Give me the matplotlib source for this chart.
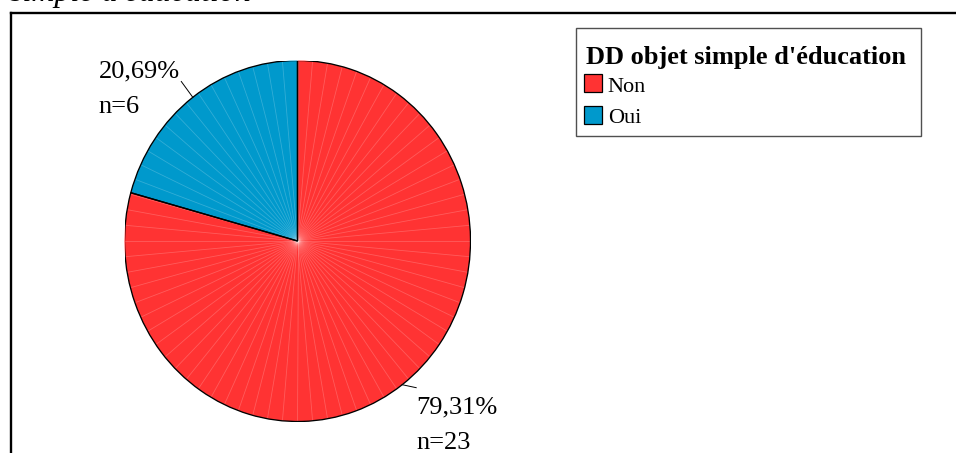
import numpy as np
import matplotlib
matplotlib.use("Agg")
import matplotlib.pyplot as plt
from matplotlib.lines import Line2D
from matplotlib.patches import Wedge, Rectangle

# ---- data ----
categories = ["Non", "Oui"]
counts = [23, 6]
percents = ["79,31%", "20,69%"]
colors = ["#FF3333", "#0099CC"]
legend_title = "DD objet simple d'éducation"
chart_title = "simple d'éducation"

W, H = 956, 453
fig = plt.figure(figsize=(W / 100, H / 100), dpi=100)
fig.patch.set_facecolor("white")
SERIF = ["Liberation Serif", "DejaVu Serif"]


def fx(px):
    return px / W


def fy(py):
    return 1 - py / H


# chart border (top & left visible, rest cropped)
lw_b = 1.7
fig.add_artist(Line2D([fx(10.5), fx(10.5)], [fy(12.5), fy(H + 5)], color="black", lw=lw_b,
                      solid_capstyle="projecting"))
fig.add_artist(Line2D([fx(10.5), fx(W + 5)], [fy(12.5), fy(12.5)], color="black", lw=lw_b,
                      solid_capstyle="projecting"))

# cropped title
fig.text(fx(9.5), fy(1.5), chart_title, family=SERIF, style="italic", fontsize=23,
         ha="left", va="baseline")

# pie axes (slightly elliptical as in reference)
cx, cy, rx, ry = 297.5, 241.0, 173.0, 180.5
ax = fig.add_axes([fx(cx - rx), fy(cy + ry), 2 * rx / W, 2 * ry / H])
wedges, _ = ax.pie(counts, colors=colors, startangle=90, counterclock=False,
                   wedgeprops=dict(edgecolor="none", linewidth=0))
ax.set_aspect("auto")
ax.set_xlim(-1, 1)
ax.set_ylim(-1, 1)
ax.axis("off")
for w in wedges:
    w.set_zorder(2)

# faint rendering texture (radial lines)
for a in np.arange(0, 360, 5.0):
    r = np.deg2rad(a)
    ax.plot([0, np.cos(r)], [0, np.sin(r)], color="white", alpha=0.2,
            lw=0.6, zorder=3)

# wedge outlines on top
for w in wedges:
    ax.add_patch(Wedge(w.center, w.r, w.theta1, w.theta2, fill=False,
                       edgecolor="black", lw=0.95, zorder=4))

# labels with leader lines (offsets in pixels)
label_cfg = {
    "Non": dict(lead=(14, 3), txt=(0, 61.5), ha="left"),
    "Oui": dict(lead=None, txt=(-1.5, 31.7), ha="right"),
}
for w, cat, n, p in zip(wedges, categories, counts, percents):
    mid = np.deg2rad((w.theta1 + w.theta2) / 2)
    ex, ey = np.cos(mid), np.sin(mid)
    cfg = label_cfg[cat]
    if cfg["lead"] is None:
        lx, ly = 1.11 * ex, 1.11 * ey
    else:
        lx = ex + cfg["lead"][0] / rx
        ly = ey - cfg["lead"][1] / ry
    ax.plot([ex, lx], [ey, ly], color="black", lw=0.7, zorder=5, clip_on=False)
    tx = lx + cfg["txt"][0] / rx
    ty = ly - cfg["txt"][1] / ry
    ax.text(tx, ty, f"{p}\nn={n}", family=SERIF, fontsize=19, ha=cfg["ha"],
            va="baseline", linespacing=1.79, multialignment="left", clip_on=False)

# legend (drawn in figure pixel layout)
lx0, ly0, lx1, ly1 = 576, 28.3, 921, 136
fig.add_artist(Rectangle((fx(lx0), fy(ly1)), (lx1 - lx0) / W, (ly1 - ly0) / H,
                         transform=fig.transFigure, facecolor="white",
                         edgecolor="#505050", lw=1.0))
fig.text(fx(586), fy(64.3), legend_title, family=SERIF, weight="bold", fontsize=19,
         ha="left", va="baseline")
row_top, row_step, sq = 74.3, 31.8, 17.4
for i, (cat, col) in enumerate(zip(categories, colors)):
    top = row_top + i * row_step
    fig.add_artist(Rectangle((fx(584.3), fy(top + sq)), sq / W, sq / H,
                             transform=fig.transFigure, facecolor=col,
                             edgecolor="black", lw=0.9))
    fig.text(fx(607.7), fy(top + sq - 0.2), cat, family=SERIF, fontsize=16,
             ha="left", va="baseline")

fig.savefig("out.png", dpi=100)
